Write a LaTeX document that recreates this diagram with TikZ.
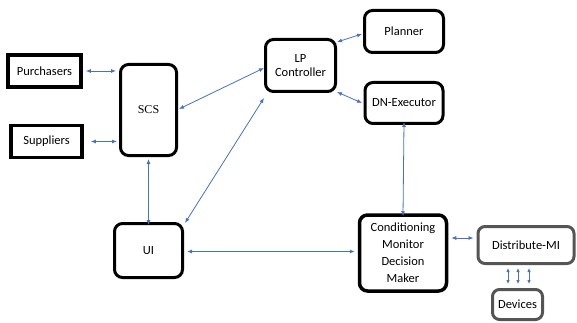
\documentclass[tikz,border=0pt]{standalone}
\usepackage{fontspec}
\setmainfont{Carlito}
\newfontfamily\serifface{Liberation Serif}
\usetikzlibrary{arrows.meta}
\definecolor{linkblue}{RGB}{68,114,196}
\definecolor{boxgrey}{RGB}{85,85,85}
\tikzset{
  plainbox/.style={draw=black,line width=3.6pt,fill=white,inner sep=0pt,font=\fontsize{12.5}{15}\selectfont,align=center},
  roundbox/.style={draw=black,line width=3pt,rounded corners=8pt,fill=white,inner sep=0pt,font=\fontsize{12.5}{15}\selectfont,align=center},
  greybox/.style={draw=boxgrey,line width=3pt,rounded corners=7pt,fill=white,inner sep=0pt,font=\fontsize{12.5}{15}\selectfont,align=center},
  link/.style={draw=linkblue,line width=0.8pt,{Latex[length=5pt,width=4pt]}-{Latex[length=5pt,width=4pt]}}
}
\begin{document}
\begin{tikzpicture}[x=1pt,y=-1pt]
\useasboundingbox (0,0) rectangle (577,323);
% left-hand parties
\node[plainbox,minimum width=73pt,minimum height=32pt] (pur) at (44.5,71) {Purchasers};
\node[plainbox,minimum width=71pt,minimum height=32pt] (sup) at (46.5,141.5) {Suppliers};
% central system
\node[roundbox,minimum width=56pt,minimum height=91pt,font=\serifface\fontsize{12}{14}\selectfont] (scs) at (148.5,110) {SCS};
\node[roundbox,minimum width=70pt,minimum height=52pt] (lp) at (300.5,65.5) {LP\\[-1pt]Controller};
\node[roundbox,minimum width=79pt,minimum height=42pt] (plan) at (404,31.5) {Planner};
\node[roundbox,minimum width=78pt,minimum height=41pt] (dn) at (404,103) {DN-Executor};
\node[roundbox,minimum width=68pt,minimum height=54pt] (ui) at (148.5,250.5) {UI};
\node[roundbox,line width=3.5pt,minimum width=87pt,minimum height=76pt,font=\fontsize{12.5}{17}\selectfont] (cond) at (403,253) {Conditioning\\Monitor\\Decision\\Maker};
% field side
\node[greybox,minimum width=96pt,minimum height=37pt] (dist) at (526,245) {Distribute-MI};
\node[greybox,minimum width=50pt,minimum height=30pt] (dev) at (517.5,304.5) {Devices};
% links
\draw[link] ([xshift=3pt]pur.east) -- ([xshift=-3pt]pur.east -| scs.west);
\draw[link] ([xshift=7pt]sup.east) -- ([xshift=-2pt]sup.east -| scs.west);
\draw[link] (scs.south) ++(0,2) coordinate (scsS) -- ([yshift=-3pt]ui.north);
\draw[link] (179,109) coordinate (scsE) -- (264,68) coordinate (lpW);
\draw[link] (185,223) coordinate (uiNE) -- (264,98) coordinate (lpSW);
\draw[link] (337,42) coordinate (lpNE) -- (362,34) coordinate (planW);
\draw[link] (337,92) coordinate (lpSE) -- (362,103) coordinate (dnW);
\draw[link] ([yshift=3pt]dn.south) -- ([yshift=-3pt]cond.north);
\draw[link] ([xshift=3pt,yshift=-1pt]ui.east) -- ([xshift=-3pt,yshift=-1pt]ui.east -| cond.west);
\draw[link] ([xshift=3pt,yshift=15pt]cond.east) -- ([xshift=-3pt,yshift=15pt]cond.east -| dist.west);
% three links between Distribute-MI and Devices
\foreach \dx [count=\i] in {-9.5,0.5,11.5} {
  \coordinate (dtop\i) at ([xshift=\dx pt]dev.center |- 0,268);
  \coordinate (dbot\i) at ([xshift=\dx pt]dev.center |- 0,284);
  \draw[link,{Latex[length=4pt,width=3.5pt]}-{Latex[length=4pt,width=3.5pt]}] (dtop\i) -- (dbot\i);
}
\end{tikzpicture}
\end{document}
